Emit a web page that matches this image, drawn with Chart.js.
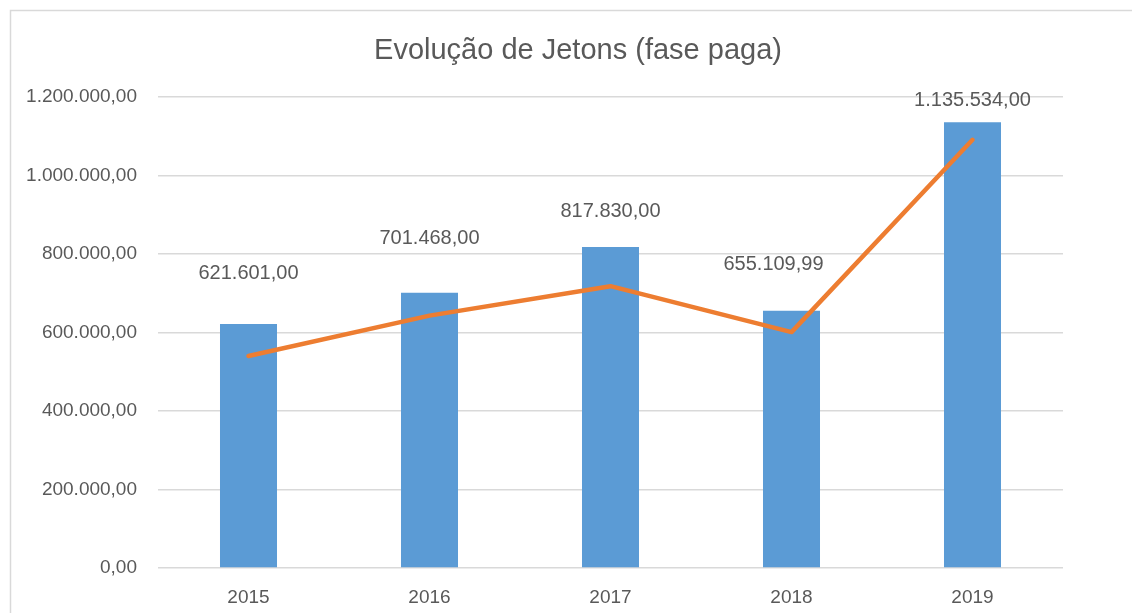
<!DOCTYPE html>
<html>
<head>
<meta charset="utf-8">
<script src="https://cdn.jsdelivr.net/npm/chart.js@4.4.1/dist/chart.umd.min.js"></script>
<style>
  html, body { margin: 0; padding: 0; background: #fff; }
  #wrap { width: 1132px; height: 613px; position: relative; }
</style>
</head>
<body>
<div id="wrap"><canvas id="chart"></canvas></div>
<script>
// Evolução de Jetons - dados
const years = ['2015', '2016', '2017', '2018', '2019'];
const paidValues = [621601.00, 701468.00, 817830.00, 655109.99, 1135534.00];
const trendValues = [540000, 643000, 718000, 601000, 1091000];
const yTicks = [0, 200000, 400000, 600000, 800000, 1000000, 1200000];
const chartTitle = 'Evolução de Jetons (fase paga)';

// label placement tweaks (px above bar top, px sideways)
const labelLift = [51, 54, 36, 46, 22];
const labelShift = [0, 0, 0, -18, 0];

const textColor = '#595959';
const gridColor = '#d9d9d9';
const fontFamily = '"Liberation Sans", Arial, sans-serif';

function fmtBR(v) {
  return v.toLocaleString('pt-BR', { minimumFractionDigits: 2, maximumFractionDigits: 2 });
}

// white background, outer frame and the title
const frame = {
  id: 'frame',
  beforeDraw(chart) {
    const c = chart.ctx;
    c.save();
    c.fillStyle = '#fff';
    c.fillRect(0, 0, chart.width, chart.height);
    c.strokeStyle = gridColor;
    c.lineWidth = 1.5;
    c.strokeRect(10.5, 10.5, chart.width + 50, chart.height + 50);
    c.font = '29px ' + fontFamily;
    c.fillStyle = textColor;
    c.textAlign = 'center';
    c.textBaseline = 'middle';
    c.fillText(chartTitle, 578, 51);
    c.restore();
  }
};

const barLabels = {
  id: 'barLabels',
  afterDatasetsDraw(chart) {
    const c = chart.ctx;
    const meta = chart.getDatasetMeta(1);
    c.save();
    c.font = '20px ' + fontFamily;
    c.fillStyle = textColor;
    c.textAlign = 'center';
    c.textBaseline = 'middle';
    meta.data.forEach((bar, i) => {
      c.fillText(fmtBR(paidValues[i]), bar.x + labelShift[i], bar.y - labelLift[i]);
    });
    c.restore();
  }
};

new Chart(document.getElementById('chart'), {
  type: 'bar',
  data: {
    labels: years,
    datasets: [
      {
        type: 'line',
        data: trendValues,
        borderColor: '#ED7D31',
        borderWidth: 4.5,
        borderCapStyle: 'round',
        borderJoinStyle: 'round',
        pointRadius: 0,
        tension: 0,
        order: 0
      },
      {
        type: 'bar',
        data: paidValues,
        backgroundColor: '#5B9BD5',
        categoryPercentage: 1,
        barPercentage: 0.315,
        order: 1
      }
    ]
  },
  options: {
    responsive: true,
    maintainAspectRatio: false,
    animation: false,
    layout: { padding: { left: 0, right: 69, top: 97, bottom: 0 } },
    plugins: {
      legend: { display: false },
      tooltip: { enabled: false },
      title: { display: false }
    },
    scales: {
      x: {
        grid: { display: false, drawTicks: false },
        border: { display: false },
        ticks: { color: textColor, font: { family: fontFamily, size: 19 }, padding: 18 },
        afterFit(scale) { scale.height = 45; }
      },
      y: {
        min: 0,
        max: 1200000,
        afterBuildTicks(scale) { scale.ticks = yTicks.map(v => ({ value: v })); },
        grid: { color: gridColor, lineWidth: 1.5, drawTicks: false },
        border: { display: false },
        ticks: {
          color: textColor,
          font: { family: fontFamily, size: 19 },
          padding: 21,
          callback: v => fmtBR(v)
        },
        afterFit(scale) { scale.width = 158; }
      }
    }
  },
  plugins: [frame, barLabels]
});
</script>
</body>
</html>
